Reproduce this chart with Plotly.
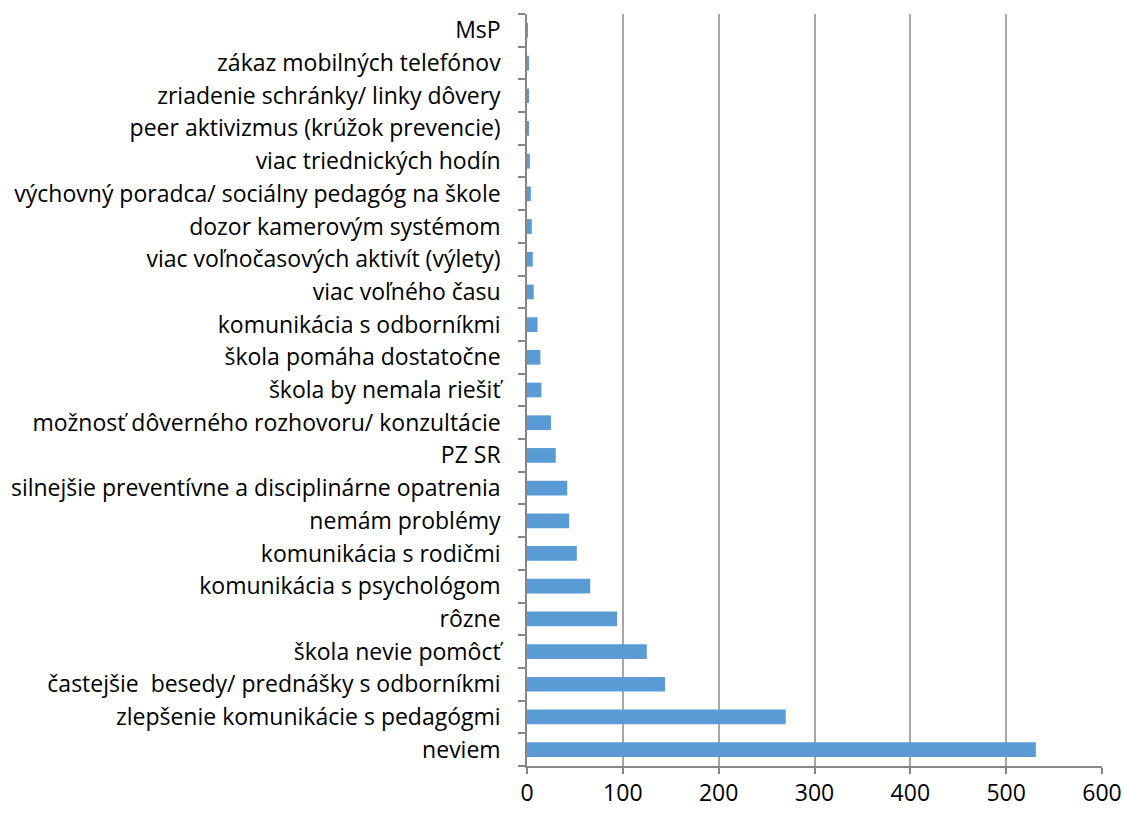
import plotly.graph_objects as go

# Survey answers, listed bottom-to-top as they appear on the chart
categories = [
    "neviem",
    "zlepšenie komunikácie s pedagógmi",
    "častejšie  besedy/ prednášky s odborníkmi",
    "škola nevie pomôcť",
    "rôzne",
    "komunikácia s psychológom",
    "komunikácia s rodičmi",
    "nemám problémy",
    "silnejšie preventívne a disciplinárne opatrenia",
    "PZ SR",
    "možnosť dôverného rozhovoru/ konzultácie",
    "škola by nemala riešiť",
    "škola pomáha dostatočne",
    "komunikácia s odborníkmi",
    "viac voľného času",
    "viac voľnočasových aktivít (výlety)",
    "dozor kamerovým systémom",
    "výchovný poradca/ sociálny pedagóg na škole",
    "viac triednických hodín",
    "peer aktivizmus (krúžok prevencie)",
    "zriadenie schránky/ linky dôvery",
    "zákaz mobilných telefónov",
    "MsP",
]
counts = [531, 270, 144, 125, 94, 66, 52, 44, 42, 30, 25, 15, 14, 11, 7, 6, 5, 4, 3, 2, 2, 2, 1]
x_ticks = [0, 100, 200, 300, 400, 500, 600]

FONT = "Open Sans"
GRID = "#A6A6A6"
AXIS = "#868686"

fig = go.Figure(
    go.Bar(
        x=counts,
        y=categories,
        orientation="h",
        marker=dict(color="#5B9BD5", line=dict(width=0)),
    )
)

fig.update_layout(
    width=1125,
    height=813,
    margin=dict(l=527, r=23, t=14, b=47),
    paper_bgcolor="white",
    plot_bgcolor="white",
    bargap=0.55,
    showlegend=False,
    font=dict(family=FONT, size=20, color="#000000"),
)

fig.update_xaxes(
    range=[0, 600],
    tickvals=x_ticks,
    showgrid=True,
    gridcolor=GRID,
    gridwidth=1.5,
    zeroline=False,
    showline=True,
    linecolor=AXIS,
    linewidth=1.5,
    ticks="outside",
    ticklen=6,
    tickcolor=AXIS,
    tickwidth=1.5,
    ticklabelstandoff=0,
    tickfont=dict(family=FONT, size=23),
    automargin=False,
    fixedrange=True,
)

fig.update_yaxes(
    type="category",
    categoryorder="array",
    categoryarray=categories,
    showgrid=False,
    showline=True,
    linecolor=AXIS,
    linewidth=1.5,
    ticks="outside",
    tickson="boundaries",
    ticklen=7,
    tickcolor=AXIS,
    tickwidth=1.5,
    ticklabelstandoff=20,
    tickfont=dict(family=FONT, size=23),
    automargin=False,
    fixedrange=True,
)

fig.write_html("out.html")
